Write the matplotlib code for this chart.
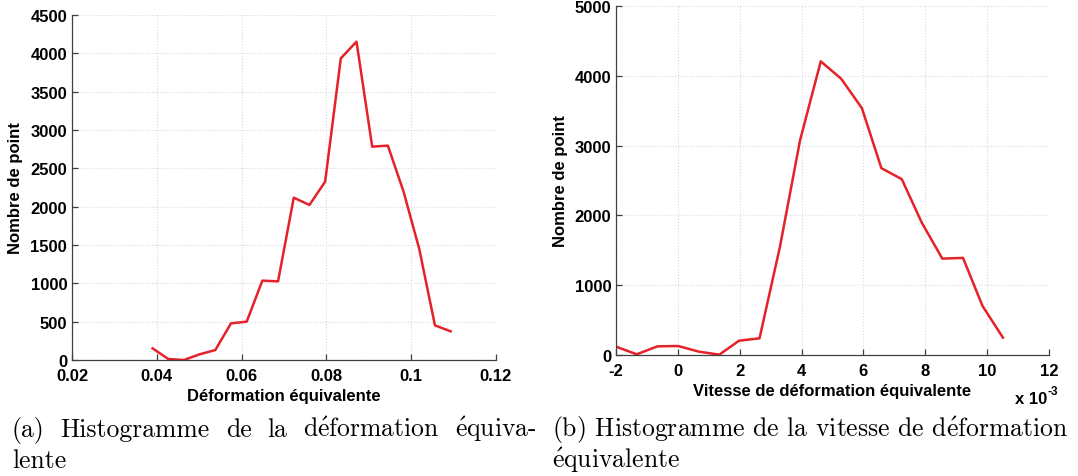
import matplotlib
matplotlib.use("Agg")
import matplotlib.pyplot as plt
import numpy as np

# ---- data ----
def_x = [0.0390, 0.0427, 0.0464, 0.0501, 0.0538, 0.0575, 0.0612, 0.0649, 0.0686, 0.0723,
         0.0760, 0.0797, 0.0834, 0.0871, 0.0908, 0.0945, 0.0982, 0.1019, 0.1056, 0.1093]
def_y = [152, 13, 0, 74, 130, 478, 500, 1035, 1026, 2117,
         2022, 2326, 3935, 4152, 2783, 2796, 2196, 1448, 452, 374]

vit_x = [-2.00, -1.33, -0.66, 0.01, 0.68, 1.34, 1.98, 2.64, 3.30, 3.95,
         4.62, 5.28, 5.95, 6.58, 7.24, 7.89, 8.55, 9.22, 9.85, 10.51]   # x 1e-3
vit_y = [120, 10, 124, 129, 48, 5, 205, 239, 1549, 3074,
         4207, 3958, 3537, 2677, 2519, 1893, 1381, 1391, 703, 249]

def_xticks = [0.02, 0.04, 0.06, 0.08, 0.1, 0.12]
def_xticklabels = ["0.02", "0.04", "0.06", "0.08", "0.1", "0.12"]
def_yticks = [0, 500, 1000, 1500, 2000, 2500, 3000, 3500, 4000, 4500]
vit_xticks = [-2, 0, 2, 4, 6, 8, 10, 12]
vit_yticks = [0, 1000, 2000, 3000, 4000, 5000]

E = r"$\mathrm{\acute{e}}$"
caption_a = ["(a) Histogramme de la d" + E + "formation " + E + "quiva-", "lente"]
caption_b = ["(b) Histogramme de la vitesse de d" + E + "formation", E + "quivalente"]

# ---- style ----
plt.rcParams["axes.unicode_minus"] = False
plt.rcParams["mathtext.fontset"] = "cm"
W, H = 1078, 477
fig = plt.figure(figsize=(W / 100, H / 100), dpi=100)
sans = ["Liberation Sans", "DejaVu Sans"]
serif = ["cmr10", "DejaVu Serif"]
red = "#e52129"
tick_fs = 12

def style(ax):
    ax.grid(True, color="#d9d9d9", linestyle=":", linewidth=0.8)
    ax.set_axisbelow(True)
    for s in ["top", "right"]:
        ax.spines[s].set_visible(False)
    for s in ["left", "bottom"]:
        ax.spines[s].set_color("#404040")
        ax.spines[s].set_linewidth(0.9)
    ax.tick_params(direction="in", length=4, width=0.9, color="#404040",
                   labelsize=tick_fs)
    ax.tick_params(axis="x", pad=5.5)
    ax.tick_params(axis="y", pad=3.5)
    for lab in ax.get_xticklabels() + ax.get_yticklabels():
        lab.set_fontfamily(sans)
        lab.set_fontweight("bold")

def frac(x0, y0, x1, y1):
    return [x0 / W, 1 - y1 / H, (x1 - x0) / W, (y1 - y0) / H]

# left axes
ax1 = fig.add_axes(frac(72, 16, 496, 361))
ax1.plot(def_x, def_y, color=red, linewidth=1.8)
ax1.set_xlim(0.02, 0.12)
ax1.set_ylim(0, 4500)
ax1.set_xticks(def_xticks)
ax1.set_xticklabels(def_xticklabels)
ax1.set_yticks(def_yticks)
style(ax1)
ax1.set_xlabel("Déformation équivalente", fontfamily=sans, fontweight="bold",
               fontsize=tick_fs, labelpad=4)
ax1.set_ylabel("Nombre de point", fontfamily=sans, fontweight="bold",
               fontsize=tick_fs, labelpad=5)

# right axes
ax2 = fig.add_axes(frac(616, 7, 1049, 356))
ax2.plot(vit_x, vit_y, color=red, linewidth=1.8)
ax2.set_xlim(-2, 12)
ax2.set_ylim(0, 5000)
ax2.set_xticks(vit_xticks)
ax2.set_yticks(vit_yticks)
style(ax2)
ax2.set_xlabel("Vitesse de déformation équivalente", fontfamily=sans,
               fontweight="bold", fontsize=tick_fs, labelpad=4)
ax2.set_ylabel("Nombre de point", fontfamily=sans, fontweight="bold",
               fontsize=tick_fs, labelpad=5)
fig.text(1047 / W, 1 - 399 / H, "x 10", ha="right", va="center",
         fontfamily=sans, fontweight="bold", fontsize=tick_fs)
fig.text(1048 / W, 1 - 392 / H, "-3", ha="left", va="center",
         fontfamily=sans, fontweight="bold", fontsize=8.5)

# captions
cap_fs = 18.5
renderer = fig.canvas.get_renderer()

def justified(text, x0, x1, ybase):
    words = text.split(" ")
    arts = [fig.text(0, 1 - ybase / H, w, fontfamily=serif, fontsize=cap_fs,
                     ha="left", va="baseline") for w in words]
    widths = [a.get_window_extent(renderer).width for a in arts]
    gap = ((x1 - x0) - sum(widths)) / (len(words) - 1)
    x = x0
    for a, w in zip(arts, widths):
        a.set_x(x / W)
        x += w + gap

justified(caption_a[0], 12, 537, 437)
fig.text(12 / W, 1 - 468 / H, caption_a[1], fontfamily=serif, fontsize=cap_fs,
         ha="left", va="baseline")
fig.text(552 / W, 1 - 437 / H, caption_b[0], fontfamily=serif, fontsize=cap_fs,
         ha="left", va="baseline")
fig.text(552 / W, 1 - 468 / H, caption_b[1], fontfamily=serif, fontsize=cap_fs,
         ha="left", va="baseline")

fig.savefig("out.png", dpi=100)
